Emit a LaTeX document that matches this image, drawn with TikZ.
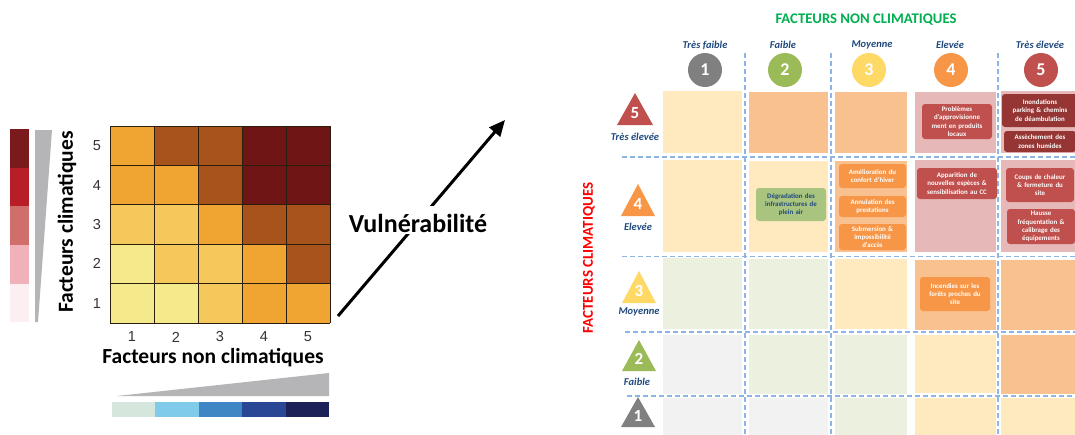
\documentclass[tikz,border=0pt]{standalone}
\usepackage{fontspec}
\setmainfont{Carlito}
\newfontfamily\arialf{Liberation Sans}
\usetikzlibrary{arrows.meta}
\definecolor{hmY}{HTML}{F4EA8C}
\definecolor{hmL}{HTML}{F5C85C}
\definecolor{hmO}{HTML}{F0A431}
\definecolor{hmB}{HTML}{A8531B}
\definecolor{hmD}{HTML}{701516}
\definecolor{hmLine}{HTML}{2B1E0E}
\definecolor{numgray}{HTML}{333333}
\definecolor{rb1}{HTML}{7A1A1C}
\definecolor{rb2}{HTML}{B81E26}
\definecolor{rb3}{HTML}{CF6E6A}
\definecolor{rb4}{HTML}{F0B2B8}
\definecolor{rb5}{HTML}{FBEFF1}
\definecolor{wedge}{HTML}{B5B5B8}
\definecolor{bb1}{HTML}{D5E6DD}
\definecolor{bb2}{HTML}{80CBEA}
\definecolor{bb3}{HTML}{3F86C4}
\definecolor{bb4}{HTML}{2A4796}
\definecolor{bb5}{HTML}{1C2257}
\definecolor{cY}{HTML}{FFE9BF}
\definecolor{cO}{HTML}{F9C090}
\definecolor{cG}{HTML}{EBF1DE}
\definecolor{cW}{HTML}{F2F2F2}
\definecolor{cP}{HTML}{E6B9B8}
\definecolor{bO}{HTML}{F79646}
\definecolor{bR}{HTML}{C0504D}
\definecolor{bDR}{HTML}{963634}
\definecolor{bG}{HTML}{A9C47F}
\definecolor{hblue}{HTML}{1F497D}
\definecolor{gtitle}{HTML}{00B050}
\definecolor{dblue}{HTML}{8DB4E2}
\definecolor{k1}{HTML}{808080}
\definecolor{k2}{HTML}{9BBB59}
\definecolor{k3}{HTML}{FFD966}
\definecolor{k4}{HTML}{F79646}
\definecolor{k5}{HTML}{C0504D}
\begin{document}
\begin{tikzpicture}[x=1pt,y=-1pt,
  hdr/.style={font=\bfseries\itshape\fontsize{10.5}{12}\selectfont, text=hblue, inner sep=0pt},
  circ/.style={circle, minimum size=34pt, inner sep=0pt, text=white, font=\bfseries\fontsize{18}{18}\selectfont},
  trinum/.style={text=white, font=\bfseries\fontsize{17}{17}\selectfont, inner sep=0pt},
  rowlab/.style={font=\bfseries\itshape\fontsize{10.5}{12}\selectfont, text=hblue, inner sep=0pt},
  dsh/.style={draw=dblue, line width=1.1pt, dash pattern=on 5pt off 3pt},
  bx/.style={rounded corners=3pt, align=center, text=white, font=\bfseries\fontsize{6.9}{8.3}\selectfont, inner sep=1pt},
  hmnum/.style={font=\arialf\fontsize{14.5}{14.5}\selectfont, text=numgray, inner sep=0pt},
  biglab/.style={font=\bfseries\fontsize{21.5}{23}\selectfont, inner sep=0pt},
]
\useasboundingbox (0,0) rectangle (1075,434);
\fill[white] (0,0) rectangle (1075,434);

% ---------- left: heatmap ----------
\foreach \col [count=\i from 0] in {hmO,hmB,hmB,hmD,hmD} \fill[\col] (110+44*\i,126) rectangle ++(44,39.4);
\foreach \col [count=\i from 0] in {hmO,hmO,hmB,hmD,hmD} \fill[\col] (110+44*\i,165.4) rectangle ++(44,39.4);
\foreach \col [count=\i from 0] in {hmL,hmL,hmO,hmB,hmB} \fill[\col] (110+44*\i,204.8) rectangle ++(44,39.4);
\foreach \col [count=\i from 0] in {hmY,hmL,hmL,hmO,hmB} \fill[\col] (110+44*\i,244.2) rectangle ++(44,39.4);
\foreach \col [count=\i from 0] in {hmY,hmY,hmL,hmO,hmO} \fill[\col] (110+44*\i,283.6) rectangle ++(44,39.4);
\foreach \i in {0,...,5} \draw[hmLine, line width=0.9pt] (110+44*\i,126) -- (110+44*\i,323);
\foreach \i in {0,...,5} \draw[hmLine, line width=0.9pt] (110,126+39.4*\i) -- (330,126+39.4*\i);

\foreach \t [count=\i from 0] in {5,4,3,2,1} \node[hmnum] (rn\t) at (97,145.7+39.4*\i) {\t};
\foreach \t [count=\i from 0] in {1,2,3,4,5} \node[hmnum] (cn\t) at (132+44*\i,337) {\t};

\node[biglab, rotate=90] (fclim) at (67,222) {Facteurs climatiques};
\node[biglab] (fnclim) at (213,358) {Facteurs non climatiques};

% red legend bar + wedge
\fill[rb1] (10,129) rectangle (29,168);
\fill[rb2] (10,168) rectangle (29,206);
\fill[rb3] (10,206) rectangle (29,245);
\fill[rb4] (10,245) rectangle (29,284);
\fill[rb5] (10,284) rectangle (29,322);
\fill[wedge] (35,130) -- (52,130) -- (38,322) -- (35,322) -- cycle;

% blue legend bar + wedge
\fill[wedge] (117,396) -- (329,373) -- (329,396) -- cycle;
\foreach \col [count=\i from 0] in {bb1,bb2,bb3,bb4,bb5} \fill[\col] (112+43.4*\i,402) rectangle ++(43.4,15);

% arrow
\coordinate (as) at (338,316);
\coordinate (ae) at (505,120);
\draw[line width=3pt, -{Triangle[length=16pt,width=14pt]}] (as) -- (ae);
\node[fill=white, inner xsep=2pt, inner ysep=0pt, text height=26pt, text depth=2pt, anchor=base,
      font=\bfseries\fontsize{26}{26}\selectfont] (vul) at (418,232) {Vulnérabilité};

% ---------- right: matrix ----------
\node[font=\bfseries\fontsize{14.7}{16}\selectfont, text=gtitle] (title) at (866,20) {FACTEURS NON CLIMATIQUES};
\node[font=\bfseries\fontsize{15}{16}\selectfont, text=red, rotate=90] (ytitle) at (589,258) {FACTEURS CLIMATIQUES};

\node[hdr] (h1) at (705,45) {Très faible};
\node[hdr] (h2) at (783,45) {Faible};
\node[hdr] (h3) at (872,45) {Moyenne};
\node[hdr] (h4) at (950,45) {Elevée};
\node[hdr] (h5) at (1040,45) {Très élevée};
\node[circ, fill=k1] (c1) at (705,70) {1};
\node[circ, fill=k2] (c2) at (785,70) {2};
\node[circ, fill=k3] (c3) at (869,70) {3};
\node[circ, fill=k4] (c4) at (951,70) {4};
\node[circ, fill=k5] (c5) at (1041,70) {5};

% cells
\def\cA{663}\def\cAe{742}
\def\cB{749}\def\cBe{828}
\def\cC{835}\def\cCe{907}
\def\cD{915}\def\cDe{996}
\def\cE{1001}\def\cEe{1085}
% row 5
\fill[cY] (\cA,91) rectangle (\cAe,153);
\fill[cO] (\cB,92) rectangle (\cBe,153);
\fill[cO] (\cC,92) rectangle (\cCe,153);
\fill[cP] (\cD,92) rectangle (\cDe,153);
\fill[cP] (\cE,91) rectangle (\cEe,153);
% row 4
\fill[cY] (\cA,160) rectangle (\cAe,252);
\fill[cY] (\cB,161) rectangle (\cBe,252);
\fill[cO] (\cC,161) rectangle (\cCe,252);
\fill[cP] (\cD,160) rectangle (\cDe,252);
\fill[cP] (\cE,160) rectangle (\cEe,252);
% row 3
\fill[cG] (\cA,258) rectangle (\cAe,329);
\fill[cG] (\cB,259) rectangle (\cBe,329);
\fill[cY] (\cC,259) rectangle (\cCe,329);
\fill[cO] (\cD,260) rectangle (\cDe,330);
\fill[cO] (\cE,260) rectangle (\cEe,330);
% row 2
\fill[cW] (\cA,335) rectangle (\cAe,394);
\fill[cG] (\cB,335) rectangle (\cBe,394);
\fill[cG] (\cC,335) rectangle (\cCe,394);
\fill[cY] (\cD,335) rectangle (\cDe,393);
\fill[cO] (\cE,335) rectangle (\cEe,394);
% row 1
\fill[cW] (\cA,398) rectangle (\cAe,440);
\fill[cW] (\cB,398) rectangle (\cBe,440);
\fill[cG] (\cC,398) rectangle (\cCe,440);
\fill[cY] (\cD,398) rectangle (\cDe,440);
\fill[cY] (\cE,398) rectangle (\cEe,440);

% dashed grid lines
\foreach \x in {745,831,998} \draw[dsh] (\x,53) -- (\x,434);
\draw[dsh] (622,157) -- (1075,157);
\draw[dsh] (622,256.5) -- (1075,256.5);
\draw[dsh] (625,332) -- (1075,332);
\draw[dsh] (627,396) -- (1075,396);

% row labels: triangles
\fill[k5] (635,93) -- (653,125) -- (617,125) -- cycle;
\node[trinum] (t5) at (635,113) {5};
\node[rowlab] (l5) at (635,137) {Très élevée};
\fill[k4] (638,184) -- (655,216) -- (621,216) -- cycle;
\node[trinum] (t4) at (638,204) {4};
\node[rowlab] (l4) at (638,227) {Elevée};
\fill[k3] (639,271) -- (656,303) -- (622,303) -- cycle;
\node[trinum] (t3) at (639,291) {3};
\node[rowlab] (l3) at (639,312) {Moyenne};
\fill[k2] (639,340) -- (656,371) -- (622,371) -- cycle;
\node[trinum] (t2) at (639,359) {2};
\node[rowlab] (l2) at (637,382) {Faible};
\fill[k1] (638,397) -- (655,427) -- (621,427) -- cycle;
\node[trinum] (t1) at (638,416) {1};

% boxes
\node[bx, fill=bG, text=hblue, minimum width=70pt, minimum height=33pt, text width=68pt] (degr) at (791,204.5)
  {Dégradation des\\infrastructures de\\plein air};
\node[bx, fill=bO, minimum width=67pt, minimum height=24pt, text width=65pt] (amel) at (872.5,176)
  {Amélioration du\\confort d’hiver};
\node[bx, fill=bO, minimum width=67pt, minimum height=21pt, text width=65pt] (annul) at (872.5,206.5)
  {Annulation des\\prestations};
\node[bx, fill=bO, minimum width=67pt, minimum height=26pt, text width=65pt] (subm) at (872.5,237)
  {Submersion \&\\impossibilité\\d’accès};
\node[bx, fill=bR, minimum width=70pt, minimum height=35pt, text width=68pt] (probl) at (957,121.5)
  {Problèmes\\d’approvisionne\\ment en produits\\locaux};
\node[bx, fill=bDR, minimum width=76pt, minimum height=33pt, text width=74pt] (inond) at (1040,110.5)
  {Inondations\\parking \& chemins\\de déambulation};
\node[bx, fill=bDR, minimum width=72pt, minimum height=21pt, text width=70pt] (assech) at (1040,141.5)
  {Assèchement des\\zones humides};
\node[bx, fill=bR, minimum width=80pt, minimum height=31pt, text width=78pt] (appar) at (957,183.5)
  {Apparition de\\nouvelles espèces \&\\sensibilisation au CC};
\node[bx, fill=bR, minimum width=68pt, minimum height=34pt, text width=66pt] (coups) at (1040,185)
  {Coups de chaleur\\\& fermeture du\\site};
\node[bx, fill=bR, minimum width=68pt, minimum height=35pt, text width=66pt] (hausse) at (1041,226.5)
  {Hausse\\fréquentation \&\\calibrage des\\équipements};
\node[bx, fill=bO, minimum width=70pt, minimum height=34pt, text width=68pt] (incend) at (955,294)
  {Incendies sur les\\forêts proches du\\site};
\end{tikzpicture}
\end{document}
